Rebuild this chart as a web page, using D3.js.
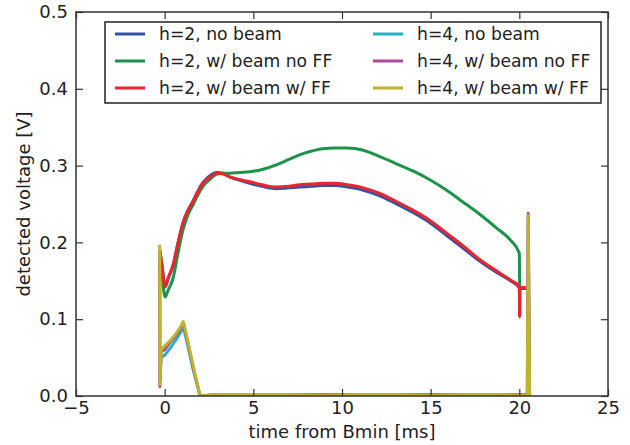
<!DOCTYPE html>
<html>
<head>
<meta charset="utf-8">
<script src="https://cdn.jsdelivr.net/npm/d3@7/dist/d3.min.js"></script>
<style>
  body { margin: 0; background: #fff; }
  svg text { font-family: "DejaVu Sans", sans-serif; fill: #222; }
</style>
</head>
<body>
<div id="vis"></div>
<script>
var width = 630;
var height = 445;
var margin = { top: 12, right: 22, bottom: 49, left: 76 };

var xTicks = [-5, 0, 5, 10, 15, 20, 25];
var yTicks = [0.0, 0.1, 0.2, 0.3, 0.4, 0.5];

// h=2 time base [ms]
var t2 = [-0.28, -0.15, 0.02, 0.2, 0.47, 0.75, 1.03, 1.3, 1.6, 1.9, 2.16, 2.5, 2.95, 3.3, 3.7, 4.2,
    4.8, 5.5, 6.3, 7.0, 7.6, 8.3, 8.9, 9.6, 10.3, 11.2, 12.1, 13.0, 14.0, 15.0, 15.9, 16.8,
    17.8, 18.7, 19.5, 20.0, 20.02, 20.03, 20.05, 20.4];
var h2NoBeam = [0.19, 0.17, 0.142, 0.153, 0.170, 0.199, 0.225, 0.241, 0.254, 0.268, 0.278, 0.286, 0.291, 0.290, 0.285, 0.281,
    0.277, 0.273, 0.270, 0.271, 0.272, 0.273, 0.274, 0.274, 0.272, 0.268, 0.261, 0.251, 0.239, 0.225, 0.209, 0.193,
    0.175, 0.161, 0.150, 0.141, 0.104, 0.140, 0.140, 0.140];
var h2BeamNoFF = [0.19, 0.16, 0.129, 0.138, 0.153, 0.186, 0.216, 0.235, 0.249, 0.263, 0.273, 0.281, 0.289, 0.290, 0.290, 0.291,
    0.292, 0.295, 0.301, 0.308, 0.314, 0.319, 0.322, 0.323, 0.323, 0.320, 0.312, 0.303, 0.293, 0.281, 0.268, 0.253,
    0.236, 0.219, 0.203, 0.186, 0.142, 0.141, 0.141, 0.141];
var h2BeamFF = [0.19, 0.17, 0.142, 0.154, 0.170, 0.199, 0.225, 0.241, 0.253, 0.267, 0.277, 0.284, 0.290, 0.289, 0.285, 0.282,
    0.279, 0.275, 0.272, 0.273, 0.275, 0.276, 0.277, 0.277, 0.275, 0.271, 0.264, 0.254, 0.242, 0.228, 0.212, 0.196,
    0.177, 0.163, 0.151, 0.142, 0.103, 0.141, 0.141, 0.141];

// h=4 time base [ms]
var t4 = [-0.28, -0.27, -0.2, 0.0, 0.3, 0.6, 0.9, 1.05, 1.3, 1.6, 2.0, 3, 5, 7, 9, 11, 13, 15, 17, 19, 20.45, 20.5, 20.58];
var h4NoBeam = [0.18, 0.02, 0.05, 0.053, 0.062, 0.072, 0.083, 0.09, 0.066, 0.035, 0.0, 0.002, 0.002, 0.001, 0.002, 0.002,
    0.001, 0.002, 0.002, 0.001, 0.002, 0.232, 0.0];
var h4BeamNoFF = [0.19, 0.012, 0.058, 0.06, 0.07, 0.078, 0.088, 0.095, 0.07, 0.038, 0.0, 0.002, 0.001, 0.002, 0.002, 0.001,
    0.002, 0.002, 0.001, 0.002, 0.002, 0.238, 0.0];
var h4BeamFF = [0.197, 0.015, 0.06, 0.065, 0.072, 0.08, 0.09, 0.097, 0.072, 0.04, 0.0, 0.002, 0.002, 0.002, 0.001, 0.002,
    0.002, 0.001, 0.002, 0.002, 0.001, 0.235, 0.0];

var series = [
    { name: 'h=2, no beam', t: t2, v: h2NoBeam, color: '#3552a6', smooth: true },
    { name: 'h=2, w/ beam no FF', t: t2, v: h2BeamNoFF, color: '#1b9348', smooth: true },
    { name: 'h=2, w/ beam w/ FF', t: t2, v: h2BeamFF, color: '#e8262f', smooth: true },
    { name: 'h=4, no beam', t: t4, v: h4NoBeam, color: '#22b4c4', smooth: false },
    { name: 'h=4, w/ beam no FF', t: t4, v: h4BeamNoFF, color: '#b2479d', smooth: false },
    { name: 'h=4, w/ beam w/ FF', t: t4, v: h4BeamFF, color: '#c2b22c', smooth: false }
];

var fontSize = 18;
var legendFont = 17.2;

var svg = d3.select('#vis').append('svg')
    .attr('width', width)
    .attr('height', height);

svg.append('rect').attr('width', width).attr('height', height).attr('fill', '#fff');

var innerW = width - margin.left - margin.right;
var innerH = height - margin.top - margin.bottom;

var x = d3.scaleLinear().domain([-5, 25]).range([margin.left, margin.left + innerW]);
var y = d3.scaleLinear().domain([0, 0.5]).range([margin.top + innerH, margin.top]);

svg.append('clipPath').attr('id', 'clip')
    .append('rect')
    .attr('x', margin.left).attr('y', margin.top)
    .attr('width', innerW).attr('height', innerH);

// data lines
var smoothLine = d3.line()
    .x(function (d) { return x(d[0]); })
    .y(function (d) { return y(d[1]); })
    .curve(d3.curveMonotoneX);
var rawLine = d3.line()
    .x(function (d) { return x(d[0]); })
    .y(function (d) { return y(d[1]); });

svg.append('g').attr('clip-path', 'url(#clip)')
    .selectAll('path')
    .data(series)
    .enter().append('path')
    .attr('d', function (s) {
        var pts = s.t.map(function (t, i) { return [t, s.v[i]]; });
        return s.smooth ? smoothLine(pts) : rawLine(pts);
    })
    .attr('fill', 'none')
    .attr('stroke', function (s) { return s.color; })
    .attr('stroke-width', 3)
    .attr('stroke-linejoin', 'round');

// axes, ticks pointing in
function styleAxis(g) {
    g.select('.domain').remove();
    g.selectAll('.tick line').attr('stroke', '#333').attr('stroke-width', 1.2);
    g.selectAll('.tick text').attr('font-size', fontSize).attr('fill', '#222');
}

svg.append('g')
    .attr('transform', 'translate(0,' + (margin.top + innerH) + ')')
    .call(d3.axisBottom(x).tickValues(xTicks).tickSize(-7).tickPadding(5)
        .tickFormat(function (d) { return d < 0 ? '\u2212' + Math.abs(d) : d; }))
    .call(styleAxis);

svg.append('g')
    .attr('transform', 'translate(0,' + margin.top + ')')
    .call(d3.axisTop(x).tickValues(xTicks).tickSize(-7).tickFormat(''))
    .call(styleAxis);

svg.append('g')
    .attr('transform', 'translate(' + margin.left + ',0)')
    .call(d3.axisLeft(y).tickValues(yTicks).tickSize(-7).tickPadding(8).tickFormat(d3.format('.1f')))
    .call(styleAxis);

svg.append('g')
    .attr('transform', 'translate(' + (margin.left + innerW) + ',0)')
    .call(d3.axisRight(y).tickValues(yTicks).tickSize(-7).tickFormat(''))
    .call(styleAxis);

svg.append('rect')
    .attr('x', margin.left).attr('y', margin.top)
    .attr('width', innerW).attr('height', innerH)
    .attr('fill', 'none').attr('stroke', '#333').attr('stroke-width', 1.5);

// axis labels
svg.append('text')
    .attr('x', margin.left + innerW / 2)
    .attr('y', 438)
    .attr('text-anchor', 'middle')
    .attr('font-size', fontSize)
    .text('time from Bmin [ms]');

svg.append('text')
    .attr('transform', 'translate(30,' + (margin.top + innerH / 2) + ') rotate(-90)')
    .attr('text-anchor', 'middle')
    .attr('font-size', fontSize)
    .text('detected voltage [V]');

// legend
var legend = svg.append('g');
legend.append('rect')
    .attr('x', 105).attr('y', 22)
    .attr('width', 496).attr('height', 81)
    .attr('fill', '#fff').attr('stroke', '#222').attr('stroke-width', 1.5);

var items = legend.selectAll('g.item')
    .data(series)
    .enter().append('g')
    .attr('class', 'item')
    .attr('transform', function (d, i) {
        var col = Math.floor(i / 3), row = i % 3;
        return 'translate(' + (col === 0 ? 115 : 373) + ',' + (34 + row * 27) + ')';
    });

items.append('line')
    .attr('x1', 0).attr('x2', 30)
    .attr('stroke', function (d) { return d.color; })
    .attr('stroke-width', 3);

items.append('text')
    .attr('x', 44)
    .attr('dy', '0.35em')
    .attr('font-size', legendFont)
    .text(function (d) { return d.name; });
</script>
</body>
</html>
